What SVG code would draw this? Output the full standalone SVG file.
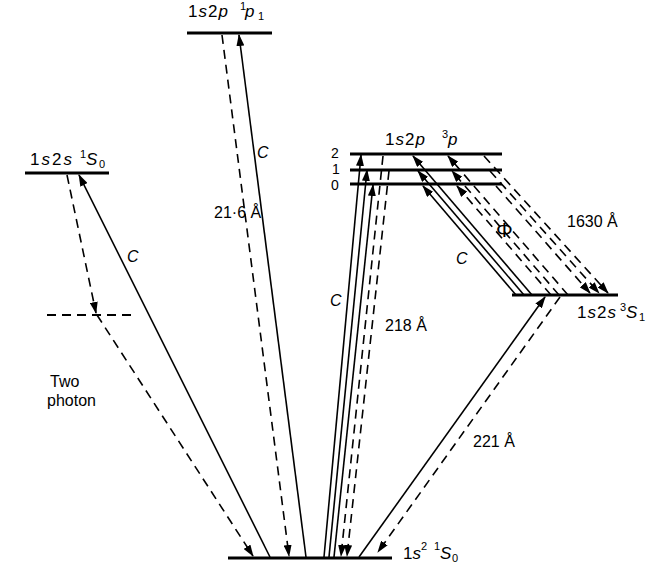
<svg xmlns="http://www.w3.org/2000/svg" width="649" height="570" viewBox="0 0 649 570">
<style>
.lvl{stroke:#000;stroke-width:3;fill:none}
.vl{stroke:#000;stroke-width:2;stroke-dasharray:9 6;fill:none}
.s{stroke:#000;stroke-width:1.6;fill:none}
.d{stroke:#000;stroke-width:1.6;stroke-dasharray:9 6;fill:none}
.a{marker-end:url(#ah)}
text{font-family:"Liberation Sans","DejaVu Sans",sans-serif;fill:#000}
.t{font-size:17px}
.sup{font-size:11px}
.i{font-style:italic}
.lab{font-size:16px}
.num{font-size:14px}
</style>
<defs>
<marker id="ah" markerUnits="userSpaceOnUse" markerWidth="12" markerHeight="8" refX="11" refY="4" orient="auto">
<path d="M0,0 L12,4 L0,8 Z" fill="#000"/>
</marker>
</defs>

<g id="level-1s2p-1P1">
<line class="lvl" x1="187" y1="33" x2="272" y2="33"/>
<text class="t" x="188" y="17" letter-spacing="1">1<tspan class="i">s</tspan>2<tspan class="i">p</tspan></text>
<text class="sup" x="240" y="10">1</text>
<text class="t i" x="245" y="17">p</text>
<text class="sup" x="258" y="20">1</text>
</g>

<g id="level-1s2s-1S0">
<line class="lvl" x1="25" y1="173" x2="109" y2="173"/>
<text class="t" x="30" y="165" letter-spacing="2">1<tspan class="i">s</tspan>2<tspan class="i">s</tspan></text>
<text class="sup" x="80" y="158">1</text>
<text class="t i" x="86" y="165">S</text>
<text class="sup" x="99" y="168">0</text>
</g>

<g id="virtual-level">
<line class="vl" x1="47" y1="315" x2="135" y2="315"/>
<text class="lab" x="50" y="387">Two</text>
<text class="lab" x="47" y="406">photon</text>
</g>

<g id="level-1s2p-3P">
<line class="lvl" x1="350" y1="154" x2="502" y2="154"/>
<line class="lvl" x1="350" y1="170" x2="502" y2="170"/>
<line class="lvl" x1="350" y1="184" x2="502" y2="184"/>
<text class="t" x="385" y="145" letter-spacing="1">1<tspan class="i">s</tspan>2<tspan class="i">p</tspan></text>
<text class="sup" x="442" y="138">3</text>
<text class="t i" x="448" y="145">p</text>
<text class="num" x="331" y="158">2</text>
<text class="num" x="332" y="174">1</text>
<text class="num" x="331" y="190">0</text>
</g>

<g id="level-1s2s-3S1">
<line class="lvl" x1="512" y1="295" x2="618" y2="295"/>
<text class="t" x="577" y="318" letter-spacing="1">1<tspan class="i">s</tspan>2<tspan class="i">s</tspan></text>
<text class="sup" x="620" y="311">3</text>
<text class="t i" x="626" y="318">S</text>
<text class="sup" x="639" y="321">1</text>
</g>

<g id="level-ground">
<line class="lvl" x1="228" y1="558" x2="392" y2="558"/>
<text class="t" x="403" y="559">1<tspan class="i">s</tspan></text>
<text class="sup" x="421" y="550">2</text>
<text class="sup" x="434" y="550">1</text>
<text class="t i" x="440" y="559">S</text>
<text class="sup" x="452" y="562">0</text>
</g>

<g id="connectors">
<line class="d a" x1="67" y1="175" x2="96" y2="313"/>
<line class="d a" x1="97" y1="315" x2="253" y2="556"/>
<line class="s a" x1="270" y1="557" x2="79" y2="175"/>

<line class="d a" x1="222" y1="35" x2="289" y2="556"/>
<line class="s a" x1="306" y1="557" x2="239" y2="35"/>

<line class="s a" x1="324" y1="557" x2="361" y2="155"/>
<line class="s a" x1="329" y1="557" x2="367" y2="170"/>
<line class="s a" x1="334" y1="557" x2="373" y2="185"/>
<line class="d a" x1="383" y1="156" x2="341" y2="556"/>
<line class="d a" x1="389" y1="171" x2="347" y2="556"/>

<line class="s a" x1="532" y1="295" x2="413" y2="156"/>
<line class="s a" x1="524" y1="295" x2="418" y2="171"/>
<line class="s a" x1="516" y1="295" x2="423" y2="186"/>
<line class="d a" x1="568" y1="295" x2="448" y2="156"/>
<line class="d a" x1="559" y1="295" x2="452" y2="171"/>
<line class="d a" x1="551" y1="295" x2="457" y2="186"/>
<line class="d a" x1="484" y1="156" x2="608" y2="293"/>
<line class="d a" x1="490" y1="171" x2="599" y2="293"/>
<line class="d a" x1="496" y1="186" x2="590" y2="293"/>

<line class="s a" x1="359" y1="557" x2="545" y2="297"/>
<line class="d a" x1="560" y1="297" x2="378" y2="552"/>
</g>

<g id="labels">
<text class="lab i" x="127" y="262">C</text>
<text class="lab i" x="257" y="158">C</text>
<text class="lab" x="214" y="218">21·6 Å</text>
<text class="lab i" x="330" y="306">C</text>
<text class="lab" x="385" y="331">218 Å</text>
<text class="lab i" x="456" y="264">C</text>
<text x="496" y="237" font-size="21">Φ</text>
<text class="lab" x="567" y="227">1630 Å</text>
<text class="lab" x="473" y="447">221 Å</text>
</g>
</svg>
